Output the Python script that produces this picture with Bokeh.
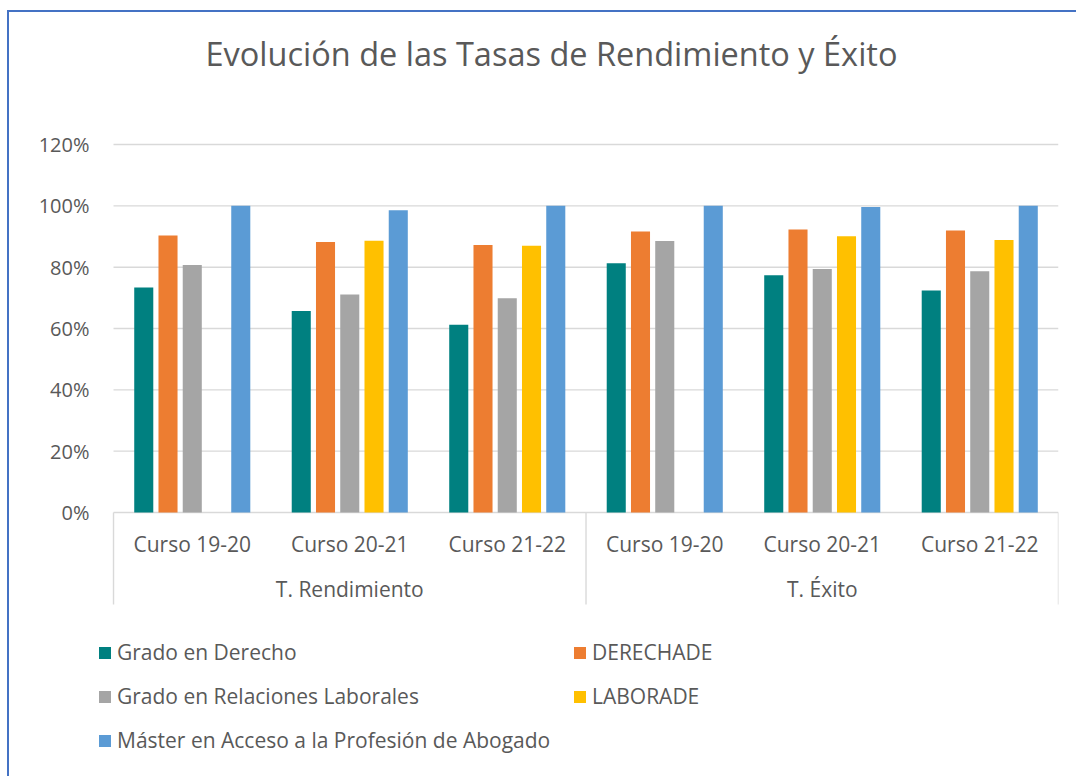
import math
from bokeh.plotting import figure
from bokeh.models import (Range1d, FixedTicker, NumeralTickFormatter, ColumnDataSource,
                          Legend, LegendItem, Title)
from bokeh.core.properties import value
from bokeh.embed import file_html
from bokeh.resources import INLINE

# ---- data ----
groups = ["T. Rendimiento", "T. Éxito"]
cursos = ["Curso 19-20", "Curso 20-21", "Curso 21-22"]
series_names = ["Grado en Derecho", "DERECHADE", "Grado en Relaciones Laborales",
                "LABORADE", "Máster en Acceso a la Profesión de Abogado"]
grado_derecho = [0.734, 0.657, 0.612, 0.813, 0.774, 0.724]
derechade = [0.903, 0.882, 0.872, 0.916, 0.923, 0.920]
grado_rl = [0.807, 0.711, 0.699, 0.885, 0.794, 0.787]
laborade = [float("nan"), 0.886, 0.870, float("nan"), 0.901, 0.889]
master = [1.0, 0.986, 1.0, 1.0, 0.996, 1.0]
colors = ["#008080", "#ED7D31", "#A5A5A5", "#FFC000", "#5B9BD5"]
y_ticks = [0, 0.2, 0.4, 0.6, 0.8, 1.0, 1.2]
title_text = "Evolución de las Tasas de Rendimiento y Éxito"

FONT = "Open Sans"
TXT = "#595959"
GRID = "#D9D9D9"

n_cat = len(groups) * len(cursos)
centers = [i + 0.5 for i in range(n_cat)]
cat_labels = [c for g in groups for c in cursos]
group_centers = [len(cursos) * (k + 0.5) for k in range(len(groups))]
bounds = [len(cursos) * k for k in range(len(groups) + 1)]

W, H = 1069, 766
p = figure(width=W, height=H, output_backend="svg", toolbar_location=None,
           x_range=Range1d(-0.089, n_cat), y_range=Range1d(-0.8674, 1.2457),
           min_border_left=90, min_border_right=20, min_border_top=118,
           min_border_bottom=0)
p.styles = {"box-shadow": "-2px -2px 0 0 #4472C4",
            "margin-left": "9px", "margin-top": "12px"}

# spacer next to the plot area, then the title above it
p.add_layout(Title(text=" ", standoff=52, text_font_size="1px"), "above")
p.add_layout(Title(text=title_text, text_font=FONT, text_font_size="32.5px",
                   text_font_style="normal", text_color=TXT, align="left",
                   offset=106, standoff=0), "above")

p.xaxis.visible = False
p.xgrid.visible = False
p.ygrid.visible = False
p.outline_line_color = None

yax = p.yaxis[0]
yax.ticker = FixedTicker(ticks=y_ticks)
yax.formatter = NumeralTickFormatter(format="0%")
yax.axis_line_color = None
yax.major_tick_line_color = None
yax.minor_tick_line_color = None
yax.major_label_text_font = FONT
yax.major_label_text_font_size = "20px"
yax.major_label_text_color = TXT
yax.major_label_standoff = 4

# horizontal gridlines over the category area
p.segment(x0=[0] * len(y_ticks), x1=[n_cat] * len(y_ticks), y0=y_ticks, y1=y_ticks,
          line_color=GRID, line_width=1.4)

step = 0.154
bw = 0.121
all_series = [grado_derecho, derechade, grado_rl, laborade, master]
renderers = []
for k, (vals, col) in enumerate(zip(all_series, colors)):
    xs = [c + (k - 2) * step for c in centers]
    src = ColumnDataSource(dict(x=xs, top=vals))
    r = p.vbar(x="x", top="top", bottom=0, width=bw, source=src,
               fill_color=col, line_color=None)
    renderers.append(r)

# category axis drawn as text + separators
p.text(x=centers, y=[0] * n_cat, text=cat_labels, y_offset=31,
       text_align="center", text_baseline="middle", text_font=value(FONT),
       text_font_size="21px", text_color=TXT)
p.text(x=group_centers, y=[0] * len(groups), text=groups, y_offset=76,
       text_align="center", text_baseline="middle", text_font=value(FONT),
       text_font_size="21px", text_color=TXT)
p.segment(x0=bounds, x1=bounds, y0=[0] * len(bounds), y1=[-0.3] * len(bounds),
          line_color=GRID, line_width=1.4)

def make_legend(idx, loc):
    items = [LegendItem(label=series_names[i], renderers=[renderers[i]]) for i in idx]
    lg = Legend(items=items, location=loc, orientation="vertical",
                border_line_color=None, background_fill_alpha=0,
                glyph_width=15, glyph_height=15, label_standoff=5,
                label_text_font=FONT, label_text_font_size="21px",
                label_text_color=TXT, label_height=30, spacing=14,
                padding=0, margin=0)
    p.add_layout(lg)

make_legend([0, 2, 4], (-2, 23))
make_legend([1, 3], (473, 67))

open("out.html", "w").write(file_html(p, INLINE))
